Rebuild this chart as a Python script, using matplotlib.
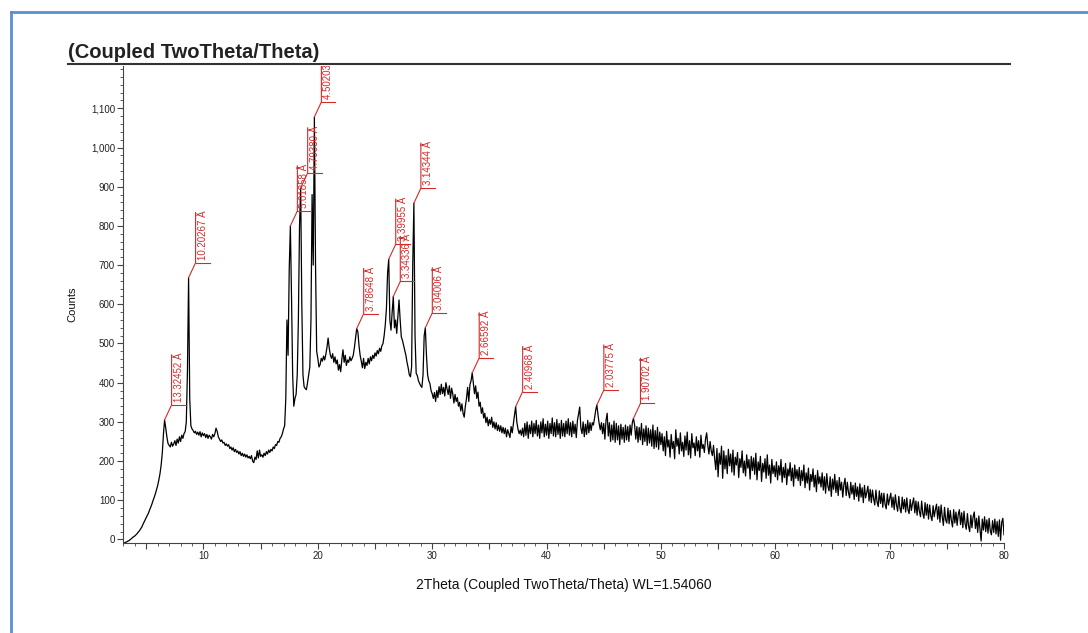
import numpy as np
import matplotlib
matplotlib.use("Agg")
import matplotlib.pyplot as plt
from matplotlib.ticker import MultipleLocator, FuncFormatter
from matplotlib.lines import Line2D

plt.rcParams['font.family'] = ['Liberation Sans', 'DejaVu Sans']

# scan: 2theta start / step, counts
two_theta_start = 3.0
two_theta_step = 0.1
counts = [
    # 3.0 - 49.9, one degree per row
    -8, -9, -7, -6, -4, -3, 0, 2, 5, 7,
    9, 12, 15, 19, 22, 27, 31, 38, 44, 50,
    56, 62, 68, 76, 83, 91, 100, 108, 117, 127,
    138, 152, 168, 190, 220, 268, 305, 285, 262, 245,
    240, 236, 248, 238, 244, 252, 240, 256, 246, 262,
    250, 266, 258, 270, 275, 300, 430, 668, 360, 290,
    282, 278, 272, 276, 268, 274, 266, 275, 262, 272,
    265, 270, 260, 268, 258, 266, 262, 256, 268, 262,
    270, 284, 276, 262, 256, 250, 254, 246, 248, 240,
    244, 238, 242, 232, 236, 228, 234, 224, 230, 222,
    226, 218, 224, 214, 220, 212, 218, 210, 216, 208,
    212, 206, 214, 200, 196, 210, 204, 226, 208, 228,
    212, 216, 210, 220, 214, 224, 218, 228, 222, 230,
    226, 236, 232, 242, 240, 250, 248, 258, 262, 270,
    282, 290, 360, 560, 470, 690, 800, 620, 420, 340,
    360, 370, 420, 560, 800, 897, 600, 420, 390, 385,
    382, 400, 420, 440, 560, 880, 700, 1078, 700, 480,
    462, 440, 446, 462, 455, 468, 458, 472, 490, 514,
    488, 470, 462, 474, 452, 466, 448, 458, 432, 446,
    428, 460, 484, 452, 470, 444, 458, 452, 466, 456,
    462, 470, 490, 515, 538, 530, 495, 470, 455, 438,
    462, 436, 452, 444, 462, 448, 466, 456, 470, 462,
    476, 468, 482, 474, 488, 480, 494, 500, 520, 548,
    590, 680, 715, 560, 534, 580, 620, 540, 560, 526,
    570, 611, 560, 517, 508, 495, 483, 470, 452, 438,
    420, 415, 440, 700, 858, 520, 424, 418, 405, 398,
    392, 388, 420, 520, 540, 470, 420, 405, 398, 380,
    372, 360, 375, 352, 380, 362, 390, 370, 396, 372,
    388, 366, 400, 384, 370, 392, 360, 386, 372, 348,
    370, 352, 362, 340, 350, 328, 346, 322, 312, 340,
    360, 388, 352, 395, 405, 425, 398, 372, 392, 360,
    376, 340, 350, 322, 336, 310, 322, 298, 312, 290,
    306, 294, 312, 286, 300, 282, 298, 278, 292, 276,
    290, 272, 286, 270, 284, 262, 280, 270, 260, 288,
    272, 296, 318, 339, 300, 282, 270, 279, 266, 284,
    262, 296, 266, 300, 258, 292, 270, 302, 262, 296,
    270, 304, 264, 292, 258, 300, 272, 308, 262, 294,
    266, 302, 258, 296, 270, 310, 264, 298, 262, 306,
    268, 296, 258, 304, 264, 296, 262, 302, 270, 308,
    266, 298, 262, 302, 270, 294, 260, 304, 320, 338,
    284, 270, 300, 262, 294, 268, 304, 272, 298, 278,
    298, 292, 310, 330, 343, 318, 296, 280, 298, 270,
    296, 256, 304, 322, 264, 298, 250, 292, 254, 302,
    248, 296, 254, 290, 242, 294, 256, 286, 248, 292,
    254, 288, 250, 292, 266, 298, 309, 292, 256, 288,
    248, 286, 254, 296, 242, 282, 250, 290, 240, 284,
    246, 280, 238, 292, 232, 278, 236, 286, 230, 274,
    # 50.0
    242,
    # 50.1 - 80.0, two degrees per row
    270, 226, 262, 214, 276, 236, 254, 210, 268, 232, 250, 206, 280, 238, 258, 218, 272, 226, 248, 212,
    264, 228, 274, 216, 252, 208, 270, 234, 246, 214, 262, 226, 252, 210, 266, 232, 242, 222, 256, 272,
    240, 218, 250, 226, 214, 240, 206, 178, 232, 160, 220, 192, 238, 156, 226, 180, 214, 168, 230, 188,
    218, 172, 228, 164, 210, 190, 222, 158, 206, 184, 226, 170, 200, 162, 216, 182, 204, 154, 212, 176,
    208, 166, 220, 152, 198, 176, 212, 148, 194, 172, 206, 156, 216, 164, 190, 144, 204, 168, 188, 160,
    198, 152, 188, 164, 204, 146, 184, 158, 194, 140, 180, 162, 196, 150, 182, 136, 190, 156, 178, 150,
    184, 138, 176, 150, 190, 132, 170, 144, 182, 126, 166, 148, 180, 134, 164, 122, 176, 142, 160, 134,
    170, 126, 160, 118, 168, 136, 124, 160, 110, 154, 128, 166, 120, 150, 112, 158, 126, 146, 108, 140,
    156, 112, 146, 120, 106, 146, 116, 138, 102, 144, 110, 134, 98, 142, 108, 132, 94, 138, 106, 120,
    136, 98, 128, 94, 126, 104, 88, 126, 96, 84, 124, 92, 118, 82, 118, 90, 78, 116, 88, 104,
    118, 82, 108, 76, 114, 88, 72, 110, 80, 68, 108, 78, 102, 70, 106, 76, 66, 102, 74, 92,
    106, 68, 98, 62, 96, 72, 58, 98, 66, 54, 94, 62, 90, 52, 88, 60, 48, 86, 58, 76,
    90, 52, 84, 44, 88, 58, 36, 82, 50, 42, 80, 40, 74, 48, 32, 76, 42, 70, 36, 64,
    76, 38, 68, 30, 72, 40, 26, 66, 34, 20, 62, 30, 58, 70, 28, 54, 18, 60, 26, -4,
    52, 24, 58, 20, 50, 16, 54, 22, 12, 48, 18, 52, 14, 46, 8, 50, -2, 44, 54, 12,
]

# d-spacing labels and the 2theta of the peak they belong to
peak_labels = ["13.32452 Å", "10.20267 Å", "5.01858 Å", "4.79380 Å", "4.50203 Å",
               "3.78648 Å", "3.39955 Å", "3.34336 Å", "3.14344 Å", "3.04006 Å",
               "2.66592 Å", "2.40968 Å", "2.03775 Å", "1.90702 Å"]
peak_positions = [6.6, 8.7, 17.6, 18.5, 19.7, 23.4, 26.2, 26.6, 28.4, 29.4,
                  33.5, 37.3, 44.4, 47.6]

x_label_ticks = [10, 20, 30, 40, 50, 60, 70, 80]
y_ticks = [0, 100, 200, 300, 400, 500, 600, 700, 800, 900, 1000, 1100]

RED = '#d42a2a'
W, H = 1088, 633

counts = np.array(counts, dtype=float)
two_theta = two_theta_start + two_theta_step * np.arange(len(counts))

fig = plt.figure(figsize=(W / 100, H / 100), dpi=100)
fig.patch.set_facecolor('white')

# axes placed in pixels
ax_l, ax_r, ax_t, ax_b = 123.4, 1004.0, 66.0, 543.0
ax = fig.add_axes([ax_l / W, 1 - ax_b / H, (ax_r - ax_l) / W, (ax_b - ax_t) / H])
x0, x1 = 3.0, 80.0
y0, y1 = -9.0, 1208.0
ax.set_xlim(x0, x1)
ax.set_ylim(y0, y1)

ax.plot(two_theta, counts, color='black', lw=0.9)

for s in ['top', 'right']:
    ax.spines[s].set_visible(False)
for s in ['left', 'bottom']:
    ax.spines[s].set_color('#444444')
    ax.spines[s].set_linewidth(0.8)

# ticks every 5 deg (labels only on tens), minor every degree
ax.xaxis.set_major_locator(MultipleLocator(5))
ax.xaxis.set_minor_locator(MultipleLocator(1))
ax.xaxis.set_major_formatter(FuncFormatter(
    lambda v, p: f"{int(round(v))}" if int(round(v)) in x_label_ticks else ""))
ax.set_yticks(y_ticks)
ax.yaxis.set_minor_locator(MultipleLocator(20))
ax.yaxis.set_major_formatter(FuncFormatter(lambda v, p: f"{int(v):,}"))
ax.tick_params(which='major', length=4, width=0.8, color='#444444',
               labelsize=7, labelcolor='#222222', pad=2)
ax.tick_params(which='minor', length=2.5, width=0.6, color='#444444')

ax.set_xlabel("2Theta (Coupled TwoTheta/Theta) WL=1.54060", fontsize=10,
              color='#111111', labelpad=12)
ax.set_ylabel("Counts", fontsize=8, color='#111111', labelpad=10)

# peak labels: diagonal leader, bracket, rotated text
sx = (ax_r - ax_l) / (x1 - x0)
sy = (ax_b - ax_t) / (y1 - y0)
for lab, pos in zip(peak_labels, peak_positions):
    i = int(np.argmin(np.abs(two_theta - pos)))
    j = i - 1 + int(np.argmax(counts[i - 1:i + 2]))
    px, py = two_theta[j], counts[j]
    cx, cy = px + 7 / sx, py + 15 / sy
    top = cy + len(lab) * 5.0 / sy
    ax.plot([px, cx, cx], [py, cy, top], color=RED, lw=0.8)
    ax.plot([cx, cx + 14 / sx], [cy, cy], color=RED, lw=0.8)
    ax.text(cx + 7 / sx, cy + 3 / sy, lab, rotation=90, ha='center', va='bottom',
            fontsize=7, color=RED, clip_on=True)

# title and its rule
fig.text(68 / W, 1 - 58 / H, "(Coupled TwoTheta/Theta)", fontsize=14.5,
         fontweight='bold', color='#222222', va='baseline', ha='left')
fig.add_artist(Line2D([68 / W, 1010 / W], [1 - 64 / H, 1 - 64 / H],
                      color='#333333', lw=1.5))

# page frame
blue = '#5b8fd4'
fig.add_artist(Line2D([11 / W, 11 / W], [0, 1 - 12 / H], color=blue, lw=2))
fig.add_artist(Line2D([11 / W, 1], [1 - 12 / H, 1 - 12 / H], color=blue, lw=2))

fig.savefig('out.png', dpi=100)
